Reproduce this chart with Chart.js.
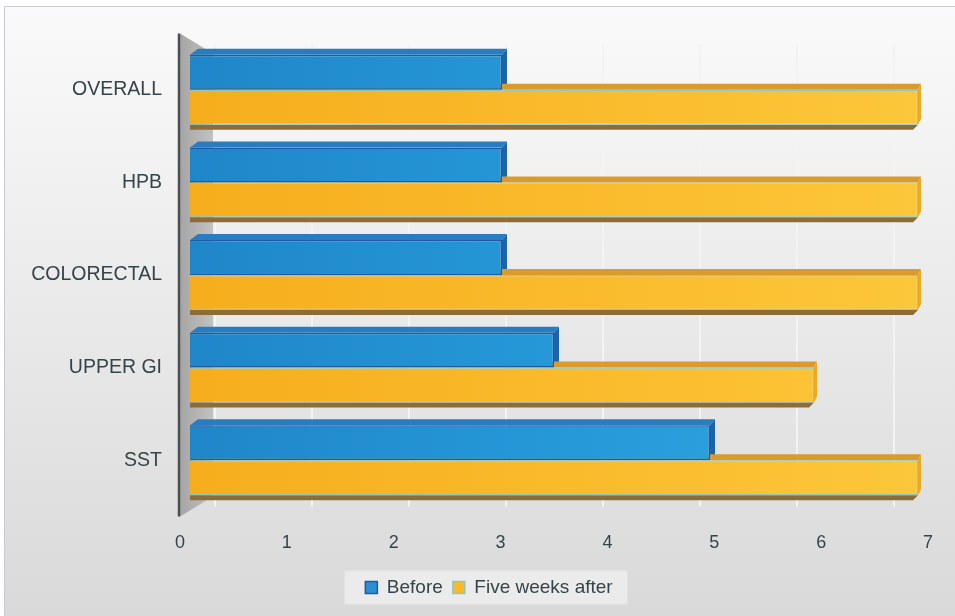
<!DOCTYPE html>
<html>
<head>
<meta charset="utf-8">
<script src="https://cdn.jsdelivr.net/npm/chart.js@4.4.1/dist/chart.umd.min.js"></script>
<style>
html, body { margin: 0; padding: 0; background: #fff; }
#wrap { width: 955px; height: 616px; }
</style>
</head>
<body>
<div id="wrap"><canvas id="chart" width="955" height="616"></canvas></div>
<script>
// data
const categories = ['OVERALL', 'HPB', 'COLORECTAL', 'UPPER GI', 'SST'];
const beforeValues = [3, 3, 3, 3.5, 5];
const afterValues = [7, 7, 7, 6, 7];
const seriesNames = ['Before', 'Five weeks after'];
const tickMin = 0;
const tickMax = 7;

const FONT = "'Liberation Sans', Arial, sans-serif";
const TEXT = '#35444a';

// front face gradients
function blueFill(c) {
  const ca = c.chart.chartArea;
  if (!ca) return '#2a9ad8';
  const g = c.chart.ctx.createLinearGradient(ca.left, 0, ca.right, 0);
  g.addColorStop(0, '#1f86c8');
  g.addColorStop(0.5, '#2598d8');
  g.addColorStop(1, '#33a8e2');
  return g;
}
function orangeFill(c) {
  const ca = c.chart.chartArea;
  if (!ca) return '#f8b623';
  const g = c.chart.ctx.createLinearGradient(ca.left, 0, ca.right, 0);
  g.addColorStop(0, '#f6ad1c');
  g.addColorStop(1, '#fcc73a');
  return g;
}

// background panel and legend box
const panelPlugin = {
  id: 'panel',
  afterLayout(chart) {
    // legend sits a little right of the canvas centre
    const lg = chart.legend;
    if (lg) { lg.left += 25; lg.right += 25; }
  },
  beforeDraw(chart) {
    const ctx = chart.ctx;
    ctx.save();
    ctx.fillStyle = '#ffffff';
    ctx.fillRect(0, 0, chart.width, chart.height);
    const g = ctx.createLinearGradient(0, 6, 0, chart.height);
    g.addColorStop(0, '#fafafa');
    g.addColorStop(1, '#d9d9d9');
    ctx.fillStyle = g;
    ctx.fillRect(4, 6, chart.width - 4, chart.height - 6);
    ctx.strokeStyle = '#c6cacd';
    ctx.lineWidth = 1;
    ctx.beginPath();
    ctx.moveTo(4.5, chart.height);
    ctx.lineTo(4.5, 6.5);
    ctx.lineTo(chart.width, 6.5);
    ctx.stroke();

    const hb = chart.legend && chart.legend.legendHitBoxes;
    if (hb && hb.length) {
      const l = Math.min(...hb.map(h => h.left)) - 21;
      const r = Math.max(...hb.map(h => h.left + h.width)) + 15;
      const cy = hb[0].top + hb[0].height / 2;
      ctx.fillStyle = '#ebebeb';
      ctx.fillRect(l, cy - 17, r - l, 34);
      ctx.strokeStyle = '#e2e2e2';
      ctx.strokeRect(l + 0.5, cy - 16.5, r - l - 1, 33);
    }
    ctx.restore();
  }
};

// the side wall and the hidden faces of the bars
const depthPlugin = {
  id: 'depth',
  beforeDatasetsDraw(chart) {
    const ctx = chart.ctx;
    const { left, top, bottom } = chart.chartArea;
    ctx.save();
    const wg = ctx.createLinearGradient(left, 0, left + 33, 0);
    wg.addColorStop(0, '#a5a5a5');
    wg.addColorStop(1, '#c2c2c2');
    ctx.fillStyle = wg;
    ctx.beginPath();
    ctx.moveTo(left, top - 10);
    ctx.lineTo(left + 33, top + 10);
    ctx.lineTo(left + 33, bottom - 10);
    ctx.lineTo(left, bottom + 10);
    ctx.closePath();
    ctx.fill();
    ctx.strokeStyle = '#4b4f52';
    ctx.lineWidth = 2.5;
    ctx.beginPath();
    ctx.moveTo(left - 1, top - 10);
    ctx.lineTo(left - 1, bottom + 10);
    ctx.stroke();

    const faces = [
      { top: '#2a7cc0', side: '#1d63aa', shadow: null, dx: 5, dy: -6 },
      { top: '#d99b2d', side: '#e9aa26', shadow: '#8d6c37', dx: 3, dy: -6 }
    ];
    chart.data.datasets.forEach((ds, di) => {
      const meta = chart.getDatasetMeta(di);
      const f = faces[di];
      meta.data.forEach(bar => {
        const p = bar.getProps(['x', 'y', 'base', 'height'], true);
        const x0 = p.base, x1 = p.x;
        const y0 = p.y - p.height / 2, y1 = p.y + p.height / 2;
        ctx.fillStyle = f.top;
        ctx.beginPath();
        ctx.moveTo(x0, y0);
        ctx.lineTo(x0 + 8, y0 + f.dy);
        ctx.lineTo(x1 + f.dx, y0 + f.dy);
        ctx.lineTo(x1, y0);
        ctx.closePath();
        ctx.fill();
        ctx.fillStyle = f.side;
        ctx.beginPath();
        ctx.moveTo(x1, y0);
        ctx.lineTo(x1 + f.dx, y0 + f.dy);
        ctx.lineTo(x1 + f.dx, y1 + f.dy);
        ctx.lineTo(x1, y1);
        ctx.closePath();
        ctx.fill();
        if (f.shadow) {
          ctx.fillStyle = f.shadow;
          ctx.beginPath();
          ctx.moveTo(x0, y1);
          ctx.lineTo(x1, y1);
          ctx.lineTo(x1 - 5, y1 + 5);
          ctx.lineTo(x0, y1 + 5);
          ctx.closePath();
          ctx.fill();
        }
      });
    });
    ctx.restore();
  }
};

new Chart(document.getElementById('chart'), {
  type: 'bar',
  data: {
    labels: categories,
    datasets: [
      {
        label: seriesNames[0],
        data: beforeValues,
        backgroundColor: blueFill,
        borderColor: '#1d5ba6',
        borderWidth: 1.5,
        categoryPercentage: 0.755,
        barPercentage: 1,
        xAxisID: 'x'
      },
      {
        label: seriesNames[1],
        data: afterValues,
        backgroundColor: orangeFill,
        borderColor: '#8ec8c2',
        borderWidth: 1.2,
        categoryPercentage: 0.755,
        barPercentage: 1,
        xAxisID: 'x'
      }
    ]
  },
  options: {
    indexAxis: 'y',
    responsive: false,
    animation: false,
    devicePixelRatio: 1,
    layout: { padding: { left: 0, right: 27, top: 43.5, bottom: 9 } },
    plugins: {
      tooltip: { enabled: false },
      legend: {
        position: 'bottom',
        labels: {
          color: TEXT,
          font: { family: FONT, size: 19 },
          boxWidth: 12,
          boxHeight: 12,
          padding: 10,
          generateLabels(chart) {
            const fills = ['#2a8fd3', '#f9b928'];
            const strokes = ['#1d5ba6', '#8ec8c2'];
            return chart.data.datasets.map((ds, i) => ({
              text: ds.label,
              fillStyle: fills[i],
              strokeStyle: strokes[i],
              lineWidth: 1.5,
              fontColor: TEXT,
              datasetIndex: i,
              hidden: false
            }));
          }
        }
      }
    },
    scales: {
      // scale used by the bars (front faces, shifted by the 3d offset)
      x: {
        type: 'linear',
        display: false,
        min: -0.09615,
        max: 7.0962
      },
      // labelled axis
      x2: {
        type: 'linear',
        position: 'bottom',
        min: tickMin,
        max: tickMax,
        grid: { display: false },
        border: { display: false },
        ticks: { stepSize: 1, color: TEXT, font: { family: FONT, size: 18 }, padding: 18 },
        afterFit(s) { s.height = 61.5; }
      },
      // back wall grid lines, in perspective
      x3: {
        type: 'linear',
        position: 'top',
        min: -0.361,
        max: 7.35,
        grid: { display: true, color: '#f3f3f3', lineWidth: 2, drawTicks: false },
        border: { display: false },
        ticks: { display: false, stepSize: 1, includeBounds: false },
        afterFit(s) { s.height = 0; }
      },
      y: {
        grid: { display: false, drawTicks: false },
        border: { display: false },
        ticks: { color: TEXT, font: { family: FONT, size: 19.5 }, padding: 18 },
        afterFit(s) { s.width = 180; }
      }
    }
  },
  plugins: [panelPlugin, depthPlugin]
});
</script>
</body>
</html>
